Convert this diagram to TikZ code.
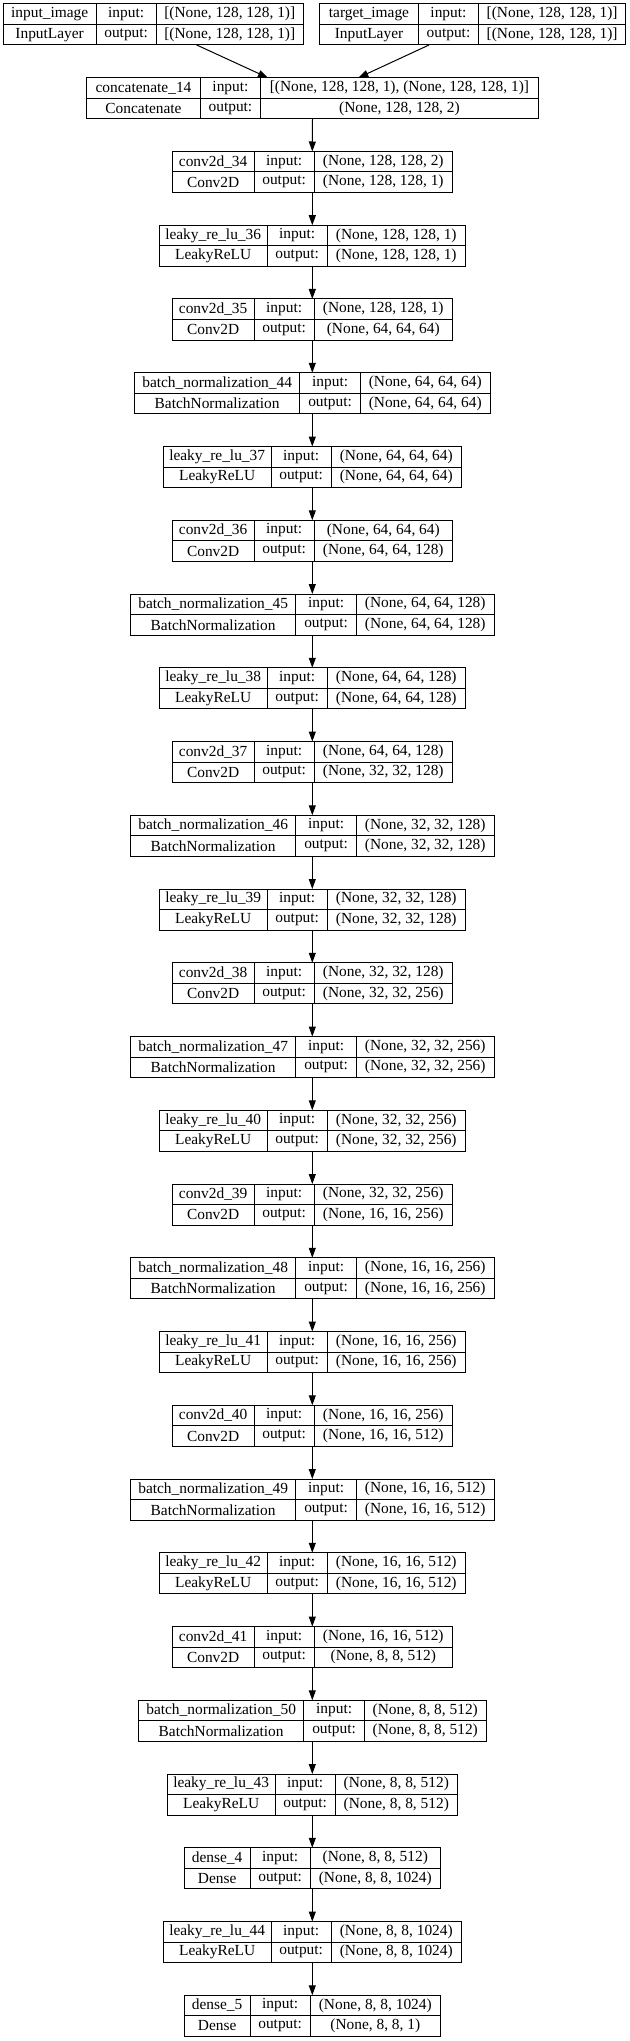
\documentclass[tikz,border=0pt]{standalone}
\usepackage{fontspec}
\setmainfont{Liberation Serif}
\usetikzlibrary{arrows.meta,calc}
\tikzset{
  box/.style={draw=black, line width=1pt, inner sep=0pt, outer sep=0pt, rectangle},
  gridline/.style={draw=black, line width=1pt},
  txt/.style={inner sep=0pt, anchor=center},
  arr/.style={draw=black, line width=1pt, -{Triangle[length=10pt,width=7pt]}},
}
\def\lblw{60.3}
% #1 node name, #2 centre x, #3 row, #4 name-column width, #5 shape-column width,
% #6 layer name, #7 class, #8 input shape, #9 output shape
\newcommand{\lyr}[9]{%
  \pgfmathsetmacro\lyrW{#4+\lblw+#5}%
  \pgfmathsetmacro\lyrY{4+#3*73.75+20.5}%
  \node[box, minimum width=\lyrW pt, minimum height=41pt] (#1) at (#2,\lyrY) {};
  \draw[gridline] (#1.west) -- (#1.east);
  \draw[gridline] ($(#1.north west)+(#4,0)$) -- ($(#1.south west)+(#4,0)$);
  \draw[gridline] ($(#1.north west)+(#4+\lblw,0)$) -- ($(#1.south west)+(#4+\lblw,0)$);
  \node[txt] at ($(#1.north west)+(#4/2,10.25)$) {#6};
  \node[txt] at ($(#1.north west)+(#4/2,30.75)$) {#7};
  \node[txt] at ($(#1.north west)+(#4+\lblw/2,10.25)$) {input:};
  \node[txt] at ($(#1.north west)+(#4+\lblw/2,30.75)$) {output:};
  \node[txt] at ($(#1.north west)+(#4+\lblw+#5/2,10.25)$) {#8};
  \node[txt] at ($(#1.north west)+(#4+\lblw+#5/2,30.75)$) {#9};
}
\def\cx{312.3}
\def\wconv{81.7}
\def\wleak{107.7}
\def\wbn{165.6}
\def\wdense{65.7}
\begin{document}
\begin{tikzpicture}[x=1pt,y=-1pt,font=\fontsize{15.4}{18}\selectfont]
\useasboundingbox (0,0) rectangle (629,2041);
\fill[white] (0,0) rectangle (629,2041);

\lyr{in}{153.3}{0}{92.7}{147}{input\_image}{InputLayer}{[(None, 128, 128, 1)]}{[(None, 128, 128, 1)]}
\lyr{tg}{472.7}{0}{98.6}{147.1}{target\_image}{InputLayer}{[(None, 128, 128, 1)]}{[(None, 128, 128, 1)]}
\lyr{L1}{312.5}{1}{113.6}{277.7}{concatenate\_14}{Concatenate}{[(None, 128, 128, 1), (None, 128, 128, 1)]}{(None, 128, 128, 2)}

\lyr{L2}{\cx}{2}{\wconv}{138}{conv2d\_34}{Conv2D}{(None, 128, 128, 2)}{(None, 128, 128, 1)}
\lyr{L3}{\cx}{3}{\wleak}{138}{leaky\_re\_lu\_36}{LeakyReLU}{(None, 128, 128, 1)}{(None, 128, 128, 1)}
\lyr{L4}{\cx}{4}{\wconv}{138}{conv2d\_35}{Conv2D}{(None, 128, 128, 1)}{(None, 64, 64, 64)}
\lyr{L5}{\cx}{5}{\wbn}{130}{batch\_normalization\_44}{BatchNormalization}{(None, 64, 64, 64)}{(None, 64, 64, 64)}
\lyr{L6}{\cx}{6}{\wleak}{130}{leaky\_re\_lu\_37}{LeakyReLU}{(None, 64, 64, 64)}{(None, 64, 64, 64)}
\lyr{L7}{\cx}{7}{\wconv}{138}{conv2d\_36}{Conv2D}{(None, 64, 64, 64)}{(None, 64, 64, 128)}
\lyr{L8}{\cx}{8}{\wbn}{138}{batch\_normalization\_45}{BatchNormalization}{(None, 64, 64, 128)}{(None, 64, 64, 128)}
\lyr{L9}{\cx}{9}{\wleak}{138}{leaky\_re\_lu\_38}{LeakyReLU}{(None, 64, 64, 128)}{(None, 64, 64, 128)}
\lyr{L10}{\cx}{10}{\wconv}{138}{conv2d\_37}{Conv2D}{(None, 64, 64, 128)}{(None, 32, 32, 128)}
\lyr{L11}{\cx}{11}{\wbn}{138}{batch\_normalization\_46}{BatchNormalization}{(None, 32, 32, 128)}{(None, 32, 32, 128)}
\lyr{L12}{\cx}{12}{\wleak}{138}{leaky\_re\_lu\_39}{LeakyReLU}{(None, 32, 32, 128)}{(None, 32, 32, 128)}
\lyr{L13}{\cx}{13}{\wconv}{138}{conv2d\_38}{Conv2D}{(None, 32, 32, 128)}{(None, 32, 32, 256)}
\lyr{L14}{\cx}{14}{\wbn}{138}{batch\_normalization\_47}{BatchNormalization}{(None, 32, 32, 256)}{(None, 32, 32, 256)}
\lyr{L15}{\cx}{15}{\wleak}{138}{leaky\_re\_lu\_40}{LeakyReLU}{(None, 32, 32, 256)}{(None, 32, 32, 256)}
\lyr{L16}{\cx}{16}{\wconv}{138}{conv2d\_39}{Conv2D}{(None, 32, 32, 256)}{(None, 16, 16, 256)}
\lyr{L17}{\cx}{17}{\wbn}{138}{batch\_normalization\_48}{BatchNormalization}{(None, 16, 16, 256)}{(None, 16, 16, 256)}
\lyr{L18}{\cx}{18}{\wleak}{138}{leaky\_re\_lu\_41}{LeakyReLU}{(None, 16, 16, 256)}{(None, 16, 16, 256)}
\lyr{L19}{\cx}{19}{\wconv}{138}{conv2d\_40}{Conv2D}{(None, 16, 16, 256)}{(None, 16, 16, 512)}
\lyr{L20}{\cx}{20}{\wbn}{138}{batch\_normalization\_49}{BatchNormalization}{(None, 16, 16, 512)}{(None, 16, 16, 512)}
\lyr{L21}{\cx}{21}{\wleak}{138}{leaky\_re\_lu\_42}{LeakyReLU}{(None, 16, 16, 512)}{(None, 16, 16, 512)}
\lyr{L22}{\cx}{22}{\wconv}{138}{conv2d\_41}{Conv2D}{(None, 16, 16, 512)}{(None, 8, 8, 512)}
\lyr{L23}{\cx}{23}{\wbn}{122}{batch\_normalization\_50}{BatchNormalization}{(None, 8, 8, 512)}{(None, 8, 8, 512)}
\lyr{L24}{\cx}{24}{\wleak}{122}{leaky\_re\_lu\_43}{LeakyReLU}{(None, 8, 8, 512)}{(None, 8, 8, 512)}
\lyr{L25}{\cx}{25}{\wdense}{130}{dense\_4}{Dense}{(None, 8, 8, 512)}{(None, 8, 8, 1024)}
\lyr{L26}{\cx}{26}{\wleak}{130}{leaky\_re\_lu\_44}{LeakyReLU}{(None, 8, 8, 1024)}{(None, 8, 8, 1024)}
\lyr{L27}{\cx}{27}{\wdense}{130}{dense\_5}{Dense}{(None, 8, 8, 1024)}{(None, 8, 8, 1)}

\coordinate (inout) at ($(in.south)+(43.4,0)$);
\coordinate (tgout) at ($(tg.south)+(-43.7,0)$);
\coordinate (catinA) at ($(L1.north)+(-44.5,0)$);
\coordinate (catinB) at ($(L1.north)+(45.8,0)$);
\draw[arr] (inout) -- (catinA);
\draw[arr] (tgout) -- (catinB);
\foreach \i in {1,...,26}{
  \pgfmathtruncatemacro\j{\i+1}
  \draw[arr] (L\i.south) -- (L\j.north);
}
\end{tikzpicture}
\end{document}
